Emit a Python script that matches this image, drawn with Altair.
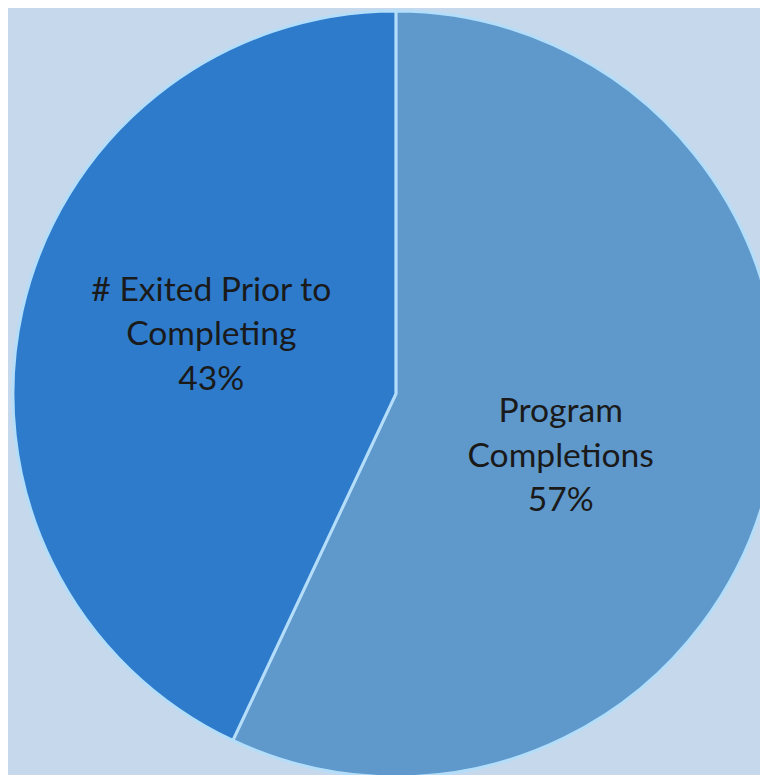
import altair as alt
import pandas as pd

categories = ["Program Completions", "# Exited Prior to Completing"]
shares = [57, 43]
label_lines = [["Program", "Completions", "57%"], ["# Exited Prior to", "Completing", "43%"]]
colors = ["#5F99CC", "#2E7BCB"]
ranks = [0, 1]

df = pd.DataFrame({"category": categories, "share": shares, "lines": label_lines, "rank": ranks})

W, H = 760, 767
CX, CY = 392, 386
R = 387
LR = 185

theta_scale = alt.Scale(domain=[0, 100])

pie = alt.Chart(df).mark_arc(
    outerRadius=R, x=CX, y=CY, stroke="#B3DDF8", strokeWidth=3
).encode(
    theta=alt.Theta("share:Q", stack=True, scale=theta_scale),
    order=alt.Order("rank:Q"),
    color=alt.Color("category:N", scale=alt.Scale(domain=categories, range=colors), legend=None),
)

base_text = alt.Chart(df).transform_window(
    cum="sum(share)", sort=[alt.SortField("rank")]
).transform_calculate(
    mid="datum.cum - datum.share / 2"
)

def label(cat, dx, dy):
    return base_text.transform_filter(alt.datum.category == cat).mark_text(
        radius=LR, x=CX, y=CY, font="Lato", fontSize=34, lineHeight=45,
        color="#1A1A1A", align="center", baseline="middle", dx=dx, dy=dy
    ).encode(
        theta=alt.Theta("mid:Q", scale=theta_scale, stack=None),
        text="lines",
    )

chart = alt.layer(
    pie,
    label(categories[0], -14, -22),
    label(categories[1], -6, -64),
).properties(
    width=W, height=H, padding=0, autosize="none", background="#C6D9EC"
).configure_view(stroke=None)

chart.save("out.html", embed_options={"renderer": "svg", "actions": False})
